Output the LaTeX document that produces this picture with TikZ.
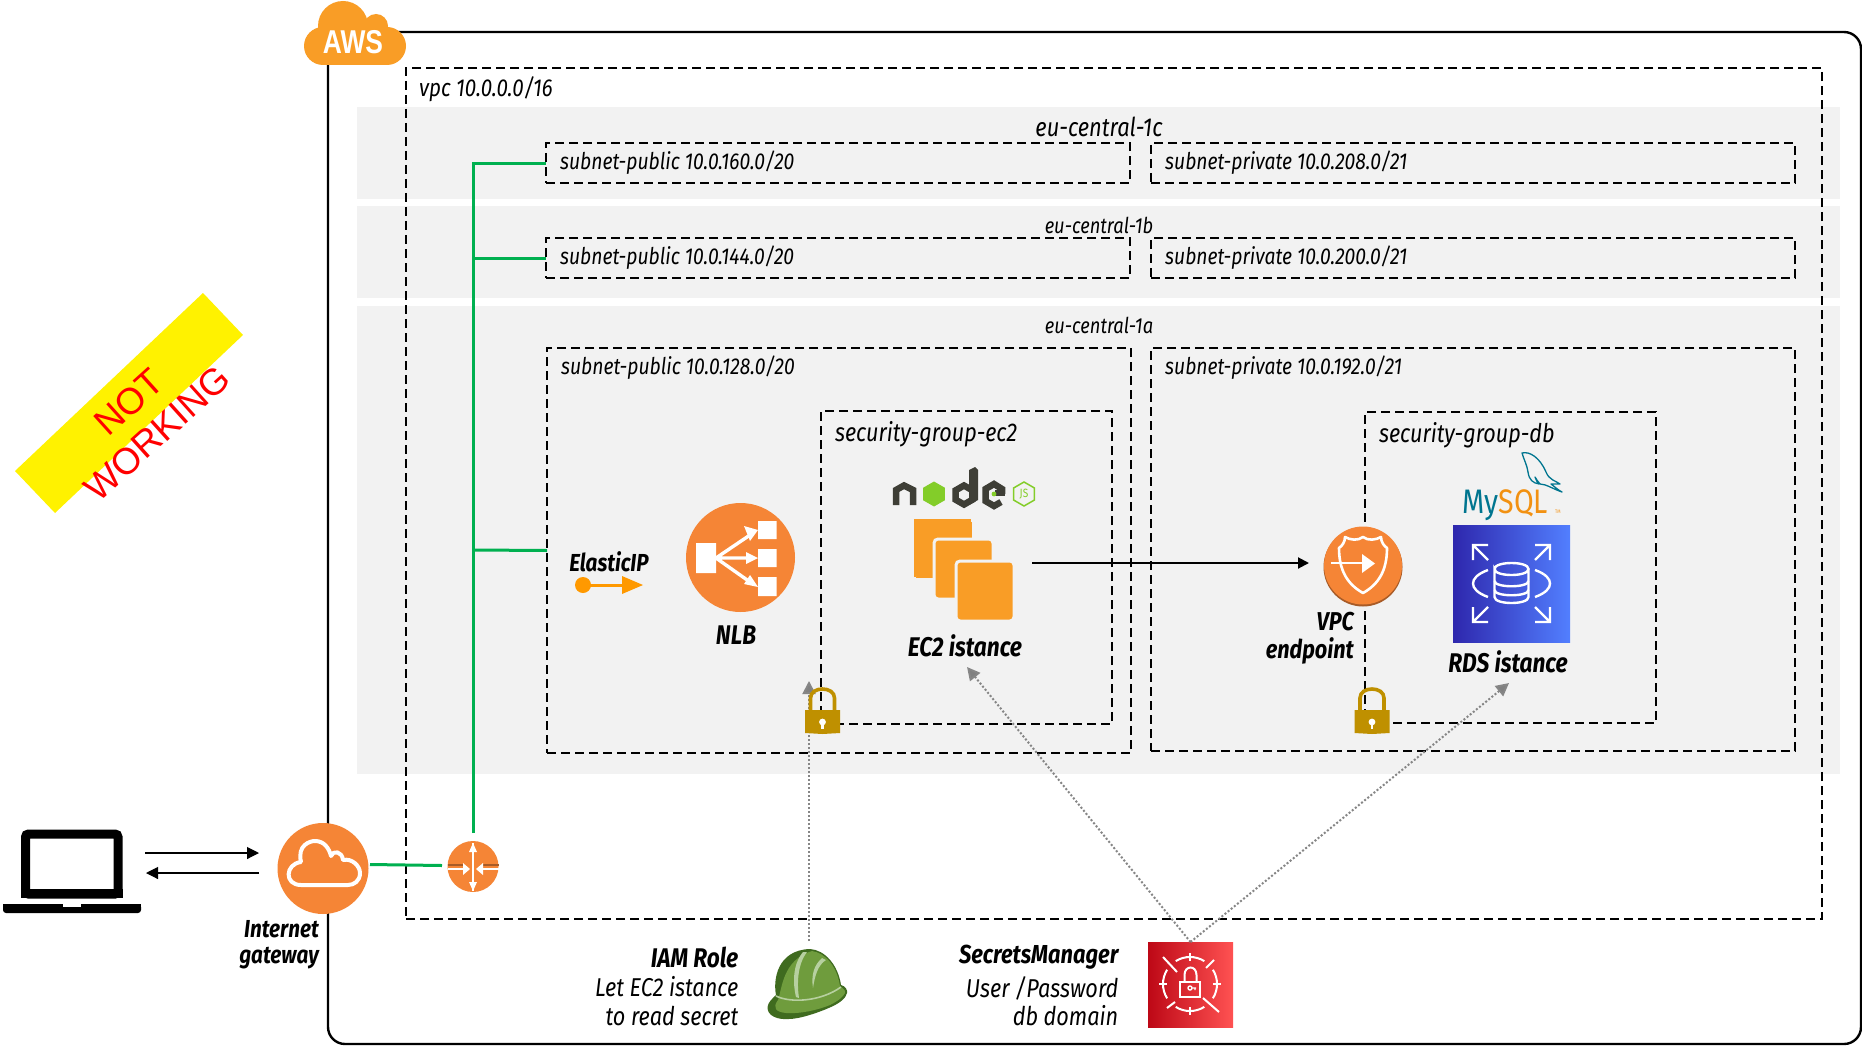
\documentclass[tikz,border=0pt]{standalone}
\usepackage{fontspec}
\usetikzlibrary{arrows.meta}
\setmainfont{Liberation Sans}
\newfontfamily\plex[FakeStretch=0.84]{Fira Sans}
\newfontfamily\awsf[FakeStretch=0.8]{Liberation Sans}
\definecolor{band}{HTML}{F2F2F2}
\definecolor{awsorange}{HTML}{F99D26}
\definecolor{iconorange}{HTML}{F58536}
\definecolor{iconshadow}{HTML}{A85B27}
\definecolor{glink}{HTML}{00B050}
\definecolor{lockc}{HTML}{BF9000}
\definecolor{eip}{HTML}{FF9900}
\definecolor{nodedark}{HTML}{3E3E36}
\definecolor{nodegreen}{HTML}{83CD29}
\definecolor{myteal}{HTML}{00758F}
\definecolor{myor}{HTML}{F29111}
\definecolor{hatg}{HTML}{6F9C3D}
\definecolor{hatd}{HTML}{3F6B1F}
\definecolor{hatl}{HTML}{B7D0A0}
\definecolor{rdsa}{HTML}{2E27AD}
\definecolor{rdsb}{HTML}{527FFF}
\definecolor{sma}{HTML}{BD0816}
\definecolor{smb}{HTML}{FF5252}
\tikzset{
  dbox/.style={draw=black,line width=2pt,dash pattern=on 9pt off 5pt,inner sep=0pt,outer sep=0pt},
  outerbox/.style={draw=black,line width=2.4pt,rounded corners=17pt,inner sep=0pt,outer sep=0pt},
  bandbox/.style={fill=band,inner sep=0pt,outer sep=0pt},
  greenlink/.style={draw=glink,line width=3pt},
  solidarrow/.style={draw=black,-{Triangle[length=11pt,width=11pt]}},
  dotarrow/.style={draw=gray!95,line width=2pt,dash pattern=on 2pt off 2pt,-{Triangle[length=13pt,width=13pt,fill=gray]}},
  lab/.style={font=\plex\itshape\fontsize{23}{28.5}\selectfont,inner sep=0pt,text=black},
  lowlab/.style={font=\plex\itshape\fontsize{25.8}{28.5}\selectfont,inner sep=0pt,text=black},
  blab/.style={font=\plex\bfseries\itshape\fontsize{27}{28.5}\selectfont,inner sep=0pt,text=black},
  iconcircle/.style={circle,fill=iconorange,inner sep=0pt,outer sep=0pt},
}
\newcommand{\placebox}[6]{%
  \pgfmathsetmacro{\bw}{#5-#3}\pgfmathsetmacro{\bh}{#6-#4}%
  \node[#1,minimum width=\bw pt,minimum height=\bh pt] (#2) at ({(#3+#5)/2},{(#4+#6)/2}) {};}
\newcommand{\hexa}[3]{(#1,{#2-#3}) -- ({#1+.87*#3},{#2-.5*#3}) -- ({#1+.87*#3},{#2+.5*#3}) -- (#1,{#2+#3}) -- ({#1-.87*#3},{#2+.5*#3}) -- ({#1-.87*#3},{#2-.5*#3}) -- cycle}
\newcommand{\padlock}[2]{%
  \begin{scope}[shift={(#1,#2)}]
    \draw[lockc,line width=3.6pt] (-12,22) -- (-12,10) .. controls (-12,-2) and (12,-2) .. (12,10) -- (12,22);
    \fill[lockc] (-17.5,22) -- (17.5,22) -- (17.5,45) -- (0,46) -- (-17.5,45) -- cycle;
    \fill[white] (0,34) circle[radius=3.4];
    \fill[white] (-1.3,34) rectangle (1.3,41);
  \end{scope}}
\begin{document}
\begin{tikzpicture}[x=1pt,y=-1pt]
\useasboundingbox (0,0) rectangle (1862,1046);
\fill[white] (0,0) rectangle (1862,1046);
% banner
\fill[yellow] (203,293) -- (243,335) -- (55,513) -- (15,471) -- cycle;
\node[font=\fontsize{37}{42}\selectfont,text=red,align=center,rotate=42,inner sep=0pt] (notworking) at (143,418) {NOT\\WORKING};
% frames
\placebox{outerbox}{aws}{328}{32}{1861}{1044}
\placebox{bandbox}{azc}{357}{107}{1840}{199}
\placebox{bandbox}{azb}{357}{206}{1840}{298}
\placebox{bandbox}{aza}{357}{306}{1840}{774}
\placebox{dbox}{vpc}{406}{68}{1822}{919}
\placebox{dbox}{pubc}{546}{143}{1130}{183}
\placebox{dbox}{privc}{1151}{143}{1795}{183}
\placebox{dbox}{pubb}{546}{238}{1130}{278}
\placebox{dbox}{privb}{1151}{238}{1795}{278}
\placebox{dbox}{puba}{547}{348}{1131}{753}
\placebox{dbox}{priva}{1151}{348}{1795}{751}
\placebox{dbox}{sgec}{821}{411}{1112}{724}
\placebox{dbox}{sgdb}{1365}{412}{1656}{723}
% frame labels
\node[lab,anchor=west,font=\plex\itshape\fontsize{24.5}{28}\selectfont] (tvpc) at (419,89) {vpc 10.0.0.0/16};
\node[lab,font=\plex\itshape\fontsize{26}{28}\selectfont] (tc) at (1099,127) {eu-central-1c};
\node[lab,font=\plex\itshape\fontsize{21.8}{24}\selectfont] (tb) at (1099,225) {eu-central-1b};
\node[lab,font=\plex\itshape\fontsize{21.8}{24}\selectfont] (ta) at (1099,325) {eu-central-1a};
\node[lab,anchor=west] (t1) at (560,163) {subnet-public 10.0.160.0/20};
\node[lab,anchor=west] (t2) at (1165,163) {subnet-private 10.0.208.0/21};
\node[lab,anchor=west] (t3) at (560,258) {subnet-public 10.0.144.0/20};
\node[lab,anchor=west] (t4) at (1165,258) {subnet-private 10.0.200.0/21};
\node[lab,anchor=west] (t5) at (561,368) {subnet-public 10.0.128.0/20};
\node[lab,anchor=west] (t6) at (1165,368) {subnet-private 10.0.192.0/21};
\node[lab,anchor=west,font=\plex\itshape\fontsize{25.7}{28}\selectfont] (t7) at (835,434) {security-group-ec2};
\node[lab,anchor=west,font=\plex\itshape\fontsize{25.7}{28}\selectfont] (t8) at (1379,435) {security-group-db};
% AWS cloud
\fill[awsorange] (343,26) circle[radius=25] (376,26) circle[radius=12];
\fill[awsorange,rounded corners=19pt] (304,27) rectangle (406,65);
\node[font=\awsf\bfseries\fontsize{33}{33}\selectfont,text=white,inner sep=0pt] (awstext) at (353,42) {AWS};
% green links
\node[iconcircle,minimum size=91pt] (igw) at (323,868.5) {};
\node[iconcircle,minimum size=51pt] (router) at (473,866.5) {};
\coordinate (rtop) at (473,833);
\coordinate (trunk) at (473,163);
\coordinate (j2) at (473,258);
\coordinate (j3) at (473,550);
\coordinate (igwout) at (370,864.5);
\coordinate (rin) at (442,865.5);
\draw[greenlink] (rtop) -- (trunk) -- (pubc.west);
\draw[greenlink] (j2) -- (pubb.west);
\draw[greenlink] (j3) -- (puba.west);
\draw[greenlink] (igwout) -- (rin);
% IGW cloud
\draw[white,line width=4pt,line join=round] (301,885) .. controls (284,885) and (285,864) .. (301,862) .. controls (297,845) and (310,841) .. (315,841) .. controls (324,841) and (329,848) .. (331,856) .. controls (333,850) and (342,851) .. (343,860) .. controls (352,858) and (360,866) .. (360,873) .. controls (360,881) and (354,885) .. (348,885) -- cycle;
% router
\draw[draw=iconshadow,line width=2.5pt] (448,865) -- (463,865) (483,865) -- (499,865);
\draw[white,line width=2.4pt] (448,869) -- (464,869) (482,869) -- (499,869);
\fill[white] (463,863) -- (470,869) -- (463,875) -- cycle (483,863) -- (476,869) -- (483,875) -- cycle;
\draw[white,line width=2.6pt] (473,843) -- (473,891);
\fill[white] (469,852) -- (473,843) -- (477,852) -- cycle (469,882) -- (473,891) -- (477,882) -- cycle;
% laptop
\draw[black,line width=9pt,rounded corners=3pt] (25.5,894) -- (25.5,834) -- (118,834) -- (118,894) -- cycle;
\fill[black] (21,889) rectangle (122.5,898);
\fill[black,rounded corners=3pt] (3,904) -- (141,904) -- (141,913) -- (3,913) -- cycle;
\fill[black] (3,904) rectangle (141,908);
\fill[white] (63,904) rectangle (81,907);
\coordinate (la) at (145,853); \coordinate (lb) at (259,853);
\coordinate (lc) at (259,873); \coordinate (ld) at (146,873);
\draw[solidarrow,line width=1.1pt,-{Triangle[length=12pt,width=12pt]}] (la) -- (lb);
\draw[solidarrow,line width=1.1pt,-{Triangle[length=12pt,width=12pt]}] (lc) -- (ld);
\node[blab,anchor=east,align=right,font=\plex\bfseries\itshape\fontsize{24.6}{26}\selectfont] (tigw) at (319,945) {Internet\\gateway};
% Elastic IP
\node[blab,font=\plex\bfseries\itshape\fontsize{24.6}{26}\selectfont] (teip) at (609,562) {ElasticIP};
\fill[eip] (583,585) circle[radius=8];
\draw[eip,line width=3pt] (583,585) -- (625,585);
\fill[eip] (622,576) -- (643,585) -- (622,594) -- cycle;
% NLB
\node[iconcircle,minimum size=109pt] (nlb) at (740.5,557.5) {};
\fill[white] (696,543) rectangle (716,573) (758,521) rectangle (776.5,539) (758,549) rectangle (776.5,567) (758,577) rectangle (776.5,596);
\draw[white,line width=3.4pt] (716,558) -- (750,535) (716,558) -- (750,558) (716,558) -- (750,582);
\fill[white] (744,526) -- (758,530) -- (750,541) -- cycle (746,552) -- (758,558) -- (746,564) -- cycle (750,575) -- (758,587) -- (744,584) -- cycle;
\node[blab] (tnlb) at (736,635) {NLB};
% node logo
\draw[nodedark,line width=6.5pt] (896,505) -- (896,490) -- (904,485.5) -- (913,490) -- (913,505);
\fill[nodegreen] \hexa{934}{494}{12.5};
\draw[nodedark,line width=6.5pt] \hexa{964}{495}{9.5};
\fill[nodedark] (969,470) -- (975,467) -- (978,470) -- (978,500) -- (969,505) -- cycle;
\draw[nodedark,line width=6.5pt] (1001,502) -- (994,506) -- (985.5,501) -- (985.5,489) -- (994,484) -- (1002,489) -- (1002,494);
\fill[nodedark] (995,490) -- (1005,490) -- (1005,496) -- (995,496) -- cycle;
\fill[nodegreen] (994,494) circle[radius=2.4];
\draw[nodegreen,line width=1.5pt] \hexa{1024}{494}{12};
\node[font=\plex\fontsize{12}{12}\selectfont,text=nodegreen,inner sep=0pt] (njs) at (1024,494) {JS};
% EC2
\draw[awsorange,fill=awsorange,line width=0pt,rounded corners=3pt] (914,519) rectangle (971,577);
\draw[band,fill=awsorange,line width=3pt,rounded corners=4pt] (934,539) rectangle (993,599);
\draw[band,fill=awsorange,line width=3pt,rounded corners=4pt] (956,561) rectangle (1014,621);
\node[blab] (tec2) at (965,646) {EC2 istance};
\coordinate (ec2out) at (1032,563);
\coordinate (vpceIn) at (1309,563);
\draw[solidarrow,line width=2pt] (ec2out) -- (vpceIn);
% VPC endpoint
\fill[iconshadow] (1363,567) circle[radius=39.5];
\node[iconcircle,minimum size=78pt] (vpce) at (1363,565.5) {};
\draw[white,line width=2.6pt,line join=round] (1363,537) .. controls (1358,541) and (1350,540) .. (1345,537) .. controls (1345,542) and (1342,546) .. (1339,548) .. controls (1339,570) and (1347,584) .. (1363,593) .. controls (1379,584) and (1387,570) .. (1387,548) .. controls (1384,546) and (1381,542) .. (1381,537) .. controls (1376,540) and (1368,541) .. (1363,537) -- cycle;
\draw[white,line width=2.6pt] (1331,563) -- (1363,563);
\fill[white] (1362,554) -- (1375,563.5) -- (1362,573) -- cycle;
\node[blab,anchor=east,align=right,font=\plex\bfseries\itshape\fontsize{25.8}{28.5}\selectfont] (tvpce) at (1354,638) {VPC\\endpoint};
% MySQL
\node[anchor=base west,inner sep=0pt,font=\plex\fontsize{34}{34}\selectfont] (mysql) at (1462,513) {\textcolor{myteal}{My}\textcolor{myor}{SQL}};
\node[anchor=base west,inner sep=0pt,font=\plex\fontsize{5}{5}\selectfont,text=myor] (tm) at (1555,513) {TM};
\draw[myteal,line width=1.3pt,line join=round] (1522,453) .. controls (1530,451) and (1540,458) .. (1546,472) .. controls (1549,480) and (1556,481) .. (1560,484) .. controls (1555,484) and (1554,484) .. (1551,484) .. controls (1555,487) and (1558,490) .. (1562,492) .. controls (1553,489) and (1546,484) .. (1540,484) .. controls (1538,482) and (1537,480) .. (1535,477) .. controls (1535,480) and (1538,482) .. (1539,484) .. controls (1533,483) and (1529,480) .. (1528,472) .. controls (1527,465) and (1524,460) .. (1522,453) -- cycle;
% RDS
\node[inner sep=0pt,outer sep=0pt,minimum width=117pt,minimum height=117pt,shading=axis,shading angle=45,left color=rdsa,right color=rdsb] (rds) at (1511.5,583.5) {};
\begin{scope}[draw=white,line width=2.4pt,line join=miter]
\draw (1488,545) -- (1473,545) -- (1473,560) (1473,545) -- (1488,560);
\draw (1535,545) -- (1550,545) -- (1550,560) (1550,545) -- (1535,560);
\draw (1488,622) -- (1473,622) -- (1473,607) (1473,622) -- (1488,607);
\draw (1535,622) -- (1550,622) -- (1550,607) (1550,622) -- (1535,607);
\draw (1488,570) .. controls (1477,574) and (1473,579) .. (1473,583.5) .. controls (1473,588) and (1477,593) .. (1488,597);
\draw (1535,570) .. controls (1546,574) and (1550,579) .. (1550,583.5) .. controls (1550,588) and (1546,593) .. (1535,597);
\draw (1494.5,569) .. controls (1494.5,561) and (1528.5,561) .. (1528.5,569) .. controls (1528.5,577) and (1494.5,577) .. (1494.5,569) -- (1494.5,597) .. controls (1494.5,605) and (1528.5,605) .. (1528.5,597) -- (1528.5,569);
\draw (1494.5,581) .. controls (1494.5,588) and (1528.5,588) .. (1528.5,581);
\draw (1494.5,590) .. controls (1494.5,597) and (1528.5,597) .. (1528.5,590);
\end{scope}
\node[blab] (trds) at (1508,662) {RDS istance};
% IAM
\node[lowlab,anchor=east,align=right] (tiam) at (738.5,1001) {Let EC2 istance\\to read secret};
\node[blab,anchor=east] (tiamb) at (738.5,957) {IAM Role};
\fill[hatd] (810,949) .. controls (825,950) and (838,965) .. (841,985) .. controls (845,986) and (848,990) .. (847,993) .. controls (846,998) and (840,1003) .. (831,1007) .. controls (820,1012) and (800,1019) .. (789,1019) .. controls (778,1020) and (767,1016) .. (767.5,1007) .. controls (768,1002) and (773,998) .. (776,995) .. controls (773,980) and (777,950) .. (810,949) -- cycle;
\fill[hatg] (812,951) .. controls (826,953) and (837,967) .. (840,986) .. controls (842,988) and (846,990) .. (845,993) .. controls (843,997) and (838,1001) .. (830,1005) .. controls (818,1010) and (800,1014) .. (786,1013) .. controls (776,1012) and (772,1008) .. (778,1000) .. controls (782,990) and (782,960) .. (812,951) -- cycle;
\draw[hatl,line width=1.6pt] (776,996) .. controls (790,1003) and (820,1002) .. (841,987);
\fill[hatl] (803,952) .. controls (792,965) and (793,985) .. (796,997) -- (799,998) .. controls (797,985) and (797,965) .. (807,952) -- cycle;
\fill[hatl] (822,958) .. controls (814,965) and (811,975) .. (813,988) .. controls (815,975) and (818,965) .. (826,960) -- cycle;
% Secrets Manager
\node[inner sep=0pt,outer sep=0pt,minimum width=85pt,minimum height=85pt,shading=axis,shading angle=45,left color=sma,right color=smb] (sm) at (1190.5,984.5) {};
\begin{scope}[draw=white,line width=2pt]
\draw (1190,984) ++(58:27) arc[start angle=58,end angle=122,radius=27];
\draw (1190,984) ++(148:27) arc[start angle=148,end angle=212,radius=27];
\draw (1190,984) ++(238:27) arc[start angle=238,end angle=302,radius=27];
\draw (1190,984) ++(328:27) arc[start angle=328,end angle=392,radius=27];
\draw (1186,957) -- (1194,957) (1190,953) -- (1190,961);
\draw (1186,1011) -- (1194,1011) (1190,1007) -- (1190,1015);
\draw (1163,980) -- (1163,988) (1159,984) -- (1167,984);
\draw (1217,980) -- (1217,988) (1213,984) -- (1221,984);
\draw (1163,957) -- (1177,972) (1214,960) -- (1206,968) (1167,1008) -- (1175,1002) (1219,1012) -- (1203,998);
\draw (1180,982) rectangle (1200,997);
\draw (1184.5,982) -- (1184.5,975) .. controls (1184.5,965) and (1196.5,965) .. (1196.5,975) -- (1196.5,982);
\draw[line width=1.4pt] (1190,988) circle[radius=2] (1192,988) -- (1196,988) (1195,988) -- (1195,990);
\end{scope}
\node[lowlab,anchor=east,align=right] (tsm) at (1118.5,1001) {User /Password\\db domain};
\node[blab,anchor=east,font=\plex\bfseries\itshape\fontsize{26}{28.5}\selectfont] (tsmb) at (1118.5,957.5) {SecretsManager};
% dotted arrows
\coordinate (iamtop) at (809,941);
\coordinate (iamtip) at (809,681);
\coordinate (smec2) at (967,667);
\coordinate (smrds) at (1509,683);
\draw[dotarrow] (iamtop) -- (iamtip);
\draw[dotarrow] (sm.north) -- (smec2);
\draw[dotarrow] (sm.north) -- (smrds);
% locks
\padlock{822.5}{688}
\padlock{1372}{688}
\end{tikzpicture}
\end{document}
